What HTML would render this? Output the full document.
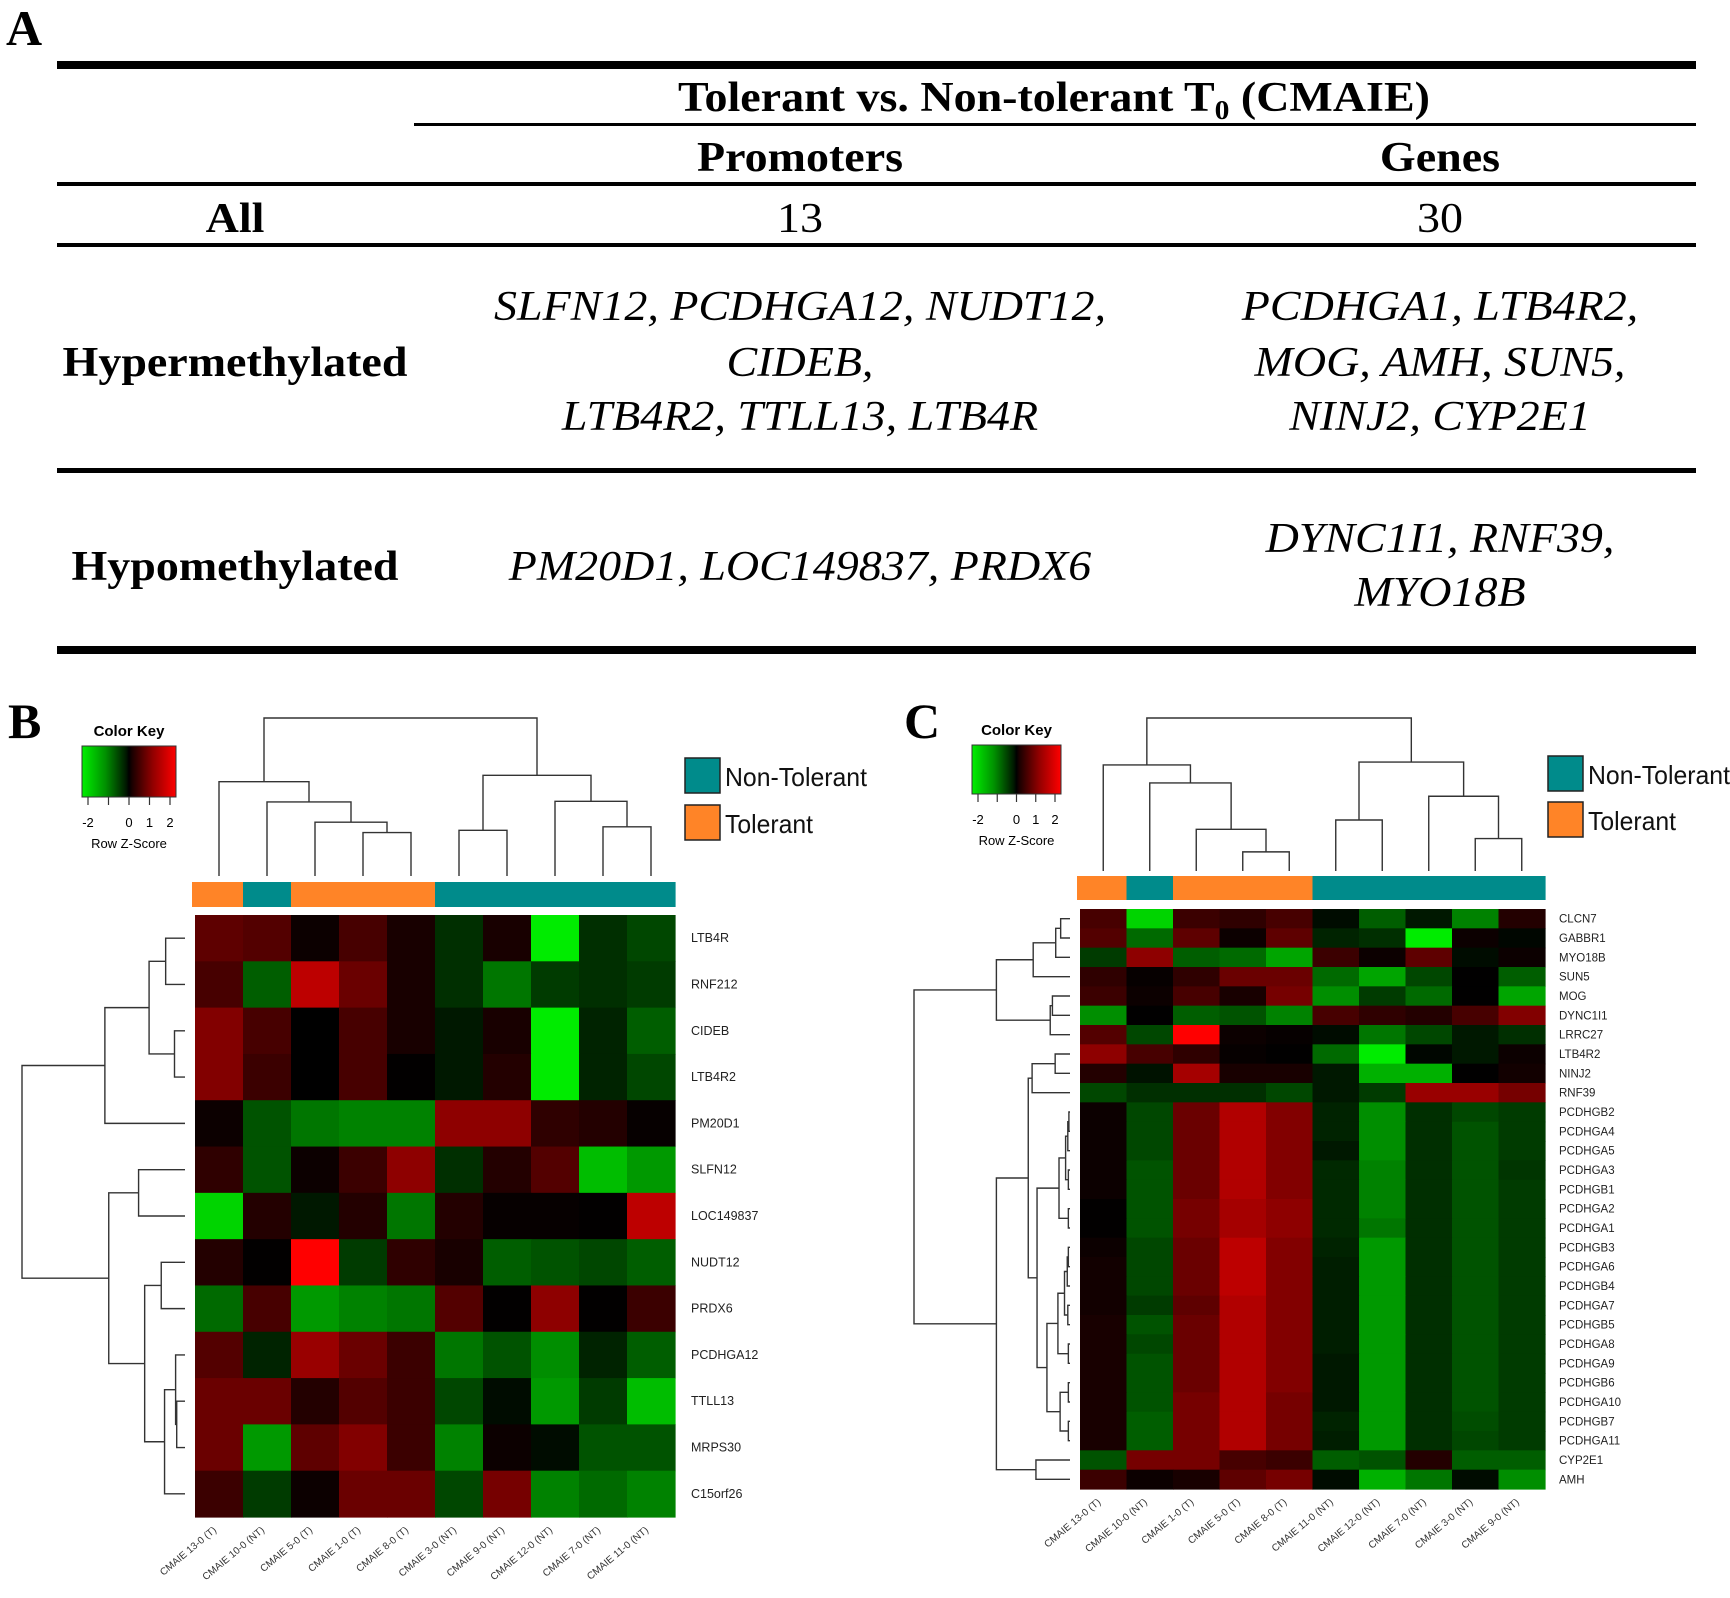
<!DOCTYPE html>
<html><head><meta charset="utf-8"><style>
html,body{margin:0;padding:0;background:#fff;}
svg{display:block;}
.ser{font-family:"Liberation Serif",serif;}
.sans{font-family:"Liberation Sans",sans-serif;}
</style></head><body>
<svg id="fig" width="1730" height="1598" viewBox="0 0 1730 1598" xmlns="http://www.w3.org/2000/svg">
<g id="tbl" class="ser" fill="#000">
<text x="6" y="45" font-size="50" font-weight="bold">A</text>
<rect x="57" y="61" width="1639" height="8"/>
<text class="st" x="1054" y="111" font-size="42" font-weight="bold" text-anchor="middle">Tolerant vs. Non-tolerant T<tspan font-size="27" dy="8">0</tspan><tspan dy="-8"> (CMAIE)</tspan></text>
<rect x="414" y="123" width="1282" height="3"/>
<text class="st" x="800" y="171" font-size="42" font-weight="bold" text-anchor="middle">Promoters</text>
<text class="st" x="1440" y="171" font-size="42" font-weight="bold" text-anchor="middle">Genes</text>
<rect x="57" y="182" width="1639" height="4"/>
<text class="st" x="235" y="232" font-size="42" font-weight="bold" text-anchor="middle">All</text>
<text class="st" x="800" y="232" font-size="42" text-anchor="middle">13</text>
<text class="st" x="1440" y="232" font-size="42" text-anchor="middle">30</text>
<rect x="57" y="243" width="1639" height="4"/>
<text class="st" x="235" y="376" font-size="42" font-weight="bold" text-anchor="middle">Hypermethylated</text>
<g font-size="42" font-style="italic" text-anchor="middle">
<text class="st" x="800" y="320">SLFN12, PCDHGA12, NUDT12,</text>
<text class="st" x="800" y="376">CIDEB,</text>
<text class="st" x="800" y="430">LTB4R2, TTLL13, LTB4R</text>
</g>
<g font-size="42" font-style="italic" text-anchor="middle">
<text class="st" x="1440" y="320">PCDHGA1, LTB4R2,</text>
<text class="st" x="1440" y="376">MOG, AMH, SUN5,</text>
<text class="st" x="1440" y="430">NINJ2, CYP2E1</text>
</g>
<rect x="57" y="468" width="1639" height="5"/>
<text class="st" x="235" y="580" font-size="42" font-weight="bold" text-anchor="middle">Hypomethylated</text>
<text class="st" x="800" y="580" font-size="42" font-style="italic" text-anchor="middle">PM20D1, LOC149837, PRDX6</text>
<g font-size="42" font-style="italic" text-anchor="middle">
<text class="st" x="1440" y="552">DYNC1I1, RNF39,</text>
<text class="st" x="1440" y="606">MYO18B</text>
</g>
<rect x="57" y="646" width="1639" height="8"/>
</g>
<text x="8" y="738" font-size="50" font-weight="bold" class="ser">B</text>
<text x="904" y="738" font-size="50" font-weight="bold" class="ser">C</text>
</svg>
<script>
// ---------- Panel B data ----------
const bCols = ["CMAIE 13-0 (T)","CMAIE 10-0 (NT)","CMAIE 5-0 (T)","CMAIE 1-0 (T)","CMAIE 8-0 (T)","CMAIE 3-0 (NT)","CMAIE 9-0 (NT)","CMAIE 12-0 (NT)","CMAIE 7-0 (NT)","CMAIE 11-0 (NT)"];
const bGroups = ["T","NT","T","T","T","NT","NT","NT","NT","NT"];
const bRows = ["LTB4R","RNF212","CIDEB","LTB4R2","PM20D1","SLFN12","LOC149837","NUDT12","PRDX6","PCDHGA12","TTLL13","MRPS30","C15orf26"];
const bValues = [
[0.8,0.7,0.1,0.6,0.2,-0.4,0.2,-2,-0.4,-0.6],
[0.6,-0.8,1.6,0.9,0.2,-0.4,-1.0,-0.5,-0.4,-0.5],
[1.1,0.6,0,0.6,0.2,-0.2,0.2,-2,-0.3,-0.8],
[1.1,0.5,0,0.6,0.02,-0.2,0.3,-2,-0.3,-0.6],
[0.1,-0.7,-1.0,-1.1,-1.1,1.2,1.2,0.4,0.3,0.05],
[0.4,-0.7,0.1,0.5,1.2,-0.4,0.3,0.7,-1.6,-1.3],
[-1.8,0.3,-0.2,0.3,-1.0,0.3,0.05,0.05,0.02,1.6],
[0.3,0.02,2.2,-0.5,0.4,0.2,-0.8,-0.7,-0.6,-0.8],
[-0.9,0.6,-1.3,-1.1,-1.0,0.7,0.02,1.2,0.02,0.5],
[0.7,-0.3,1.3,0.9,0.5,-1.0,-0.7,-1.2,-0.3,-0.8],
[0.9,0.9,0.3,0.7,0.5,-0.6,-0.1,-1.3,-0.5,-1.6],
[0.9,-1.3,0.8,1.1,0.5,-1.1,0.1,-0.1,-0.7,-0.7],
[0.5,-0.5,0.1,0.9,0.9,-0.6,1.0,-1.1,-0.9,-1.1]];
const bColMerges = [[3,4,75],[2,10,93],[1,11,128],[0,12,163],[5,6,79],[8,9,85],[7,15,129],[14,16,174],[13,17,273]];
const bRowMerges = [[0,1,35],[2,3,19],[13,14,65],[15,4,145],[5,6,84],[7,8,43],[10,11,15],[9,19,17],[20,12,37],[18,21,73],[17,22,138],[16,23,295]];

// ---------- Panel C data ----------
const cCols = ["CMAIE 13-0 (T)","CMAIE 10-0 (NT)","CMAIE 1-0 (T)","CMAIE 5-0 (T)","CMAIE 8-0 (T)","CMAIE 11-0 (NT)","CMAIE 12-0 (NT)","CMAIE 7-0 (NT)","CMAIE 3-0 (NT)","CMAIE 9-0 (NT)"];
const cGroups = ["T","NT","T","T","T","NT","NT","NT","NT","NT"];
const cRows = ["CLCN7","GABBR1","MYO18B","SUN5","MOG","DYNC1I1","LRRC27","LTB4R2","NINJ2","RNF39","PCDHGB2","PCDHGA4","PCDHGA5","PCDHGA3","PCDHGB1","PCDHGA2","PCDHGA1","PCDHGB3","PCDHGA6","PCDHGB4","PCDHGA7","PCDHGB5","PCDHGA8","PCDHGA9","PCDHGB6","PCDHGA10","PCDHGB7","PCDHGA11","CYP2E1","AMH"];
const cValues = [
[0.6,-1.8,0.5,0.4,0.6,-0.1,-0.8,-0.2,-1.1,0.3],
[0.7,-0.9,0.8,0.1,0.8,-0.3,-0.4,-2.0,0.1,-0.05],
[-0.5,1.2,-0.8,-0.9,-1.4,0.5,0.1,0.8,-0.1,0.1],
[0.4,0.05,0.4,0.9,0.9,-0.9,-1.4,-0.6,0.01,-0.8],
[0.5,0.1,0.6,0.2,1.0,-1.2,-0.5,-0.9,0.01,-1.4],
[-1.2,0.01,-0.8,-0.7,-1.1,0.6,0.4,0.3,0.6,1.1],
[0.7,-0.6,2.2,0.1,0.05,-0.1,-1.0,-0.6,-0.2,-0.4],
[1.2,0.6,0.4,0.05,0.01,-0.9,-2.0,-0.05,-0.2,0.1],
[0.3,-0.15,1.4,0.2,0.2,-0.2,-1.5,-1.5,0.01,0.15],
[-0.6,-0.4,-0.4,-0.4,-0.6,-0.2,-0.5,1.3,1.3,1.0],
[0.1,-0.6,0.9,1.5,1.1,-0.3,-1.2,-0.4,-0.6,-0.5],
[0.1,-0.6,0.9,1.5,1.1,-0.3,-1.2,-0.4,-0.7,-0.5],
[0.1,-0.6,0.9,1.5,1.1,-0.2,-1.2,-0.4,-0.7,-0.5],
[0.1,-0.7,0.9,1.5,1.1,-0.35,-1.1,-0.4,-0.7,-0.45],
[0.1,-0.7,0.9,1.5,1.1,-0.35,-1.1,-0.4,-0.7,-0.5],
[0.02,-0.7,1.0,1.4,1.2,-0.35,-1.1,-0.4,-0.7,-0.5],
[0.02,-0.7,1.0,1.4,1.2,-0.35,-1.0,-0.4,-0.7,-0.5],
[0.1,-0.6,0.9,1.6,1.1,-0.3,-1.3,-0.4,-0.7,-0.5],
[0.15,-0.6,0.9,1.6,1.1,-0.25,-1.3,-0.4,-0.7,-0.5],
[0.15,-0.6,0.9,1.6,1.1,-0.25,-1.3,-0.4,-0.7,-0.5],
[0.15,-0.5,0.8,1.5,1.1,-0.25,-1.3,-0.4,-0.7,-0.5],
[0.2,-0.7,0.9,1.5,1.1,-0.25,-1.3,-0.4,-0.7,-0.5],
[0.2,-0.6,0.9,1.5,1.1,-0.25,-1.3,-0.4,-0.7,-0.5],
[0.2,-0.7,0.9,1.5,1.1,-0.2,-1.3,-0.4,-0.7,-0.5],
[0.2,-0.7,0.9,1.5,1.1,-0.2,-1.3,-0.4,-0.7,-0.5],
[0.2,-0.7,1.0,1.5,1.0,-0.2,-1.3,-0.4,-0.7,-0.5],
[0.2,-0.8,1.0,1.5,1.0,-0.3,-1.3,-0.4,-0.65,-0.5],
[0.2,-0.8,1.0,1.5,1.0,-0.25,-1.3,-0.4,-0.6,-0.5],
[-0.7,1.0,1.0,0.6,0.5,-0.8,-0.7,0.3,-0.8,-0.8],
[0.5,0.1,0.2,0.8,1.0,-0.1,-1.5,-1.0,-0.1,-1.2]];
const cColMerges = [[3,4,33],[2,10,72],[1,11,152],[0,12,183],[5,6,88],[8,9,56],[7,15,129],[14,16,188],[13,17,264]];
const cRowMerges = [[0,1,17],[30,2,26],[31,3,67],[4,5,32],[33,6,36],[32,34,134],[7,8,27],[36,9,69],
[10,11,2],[38,12,4],[13,14,3],[39,40,8],[15,16,3],[41,42,20],[17,18,3],[44,19,5],[20,21,4],[45,46,10],[22,23,3],[47,48,22],[24,25,3],[26,27,3],[50,51,18],[49,52,42],[43,53,60],[37,54,76],[28,29,62],[55,56,134],[35,57,284]];
const keyTicks = [-2,-1,0,1,2];
const keyLabels = ["-2","","0","1","2"];

const NS = "http://www.w3.org/2000/svg";
const svg = document.getElementById('fig');
function mk(tag, attrs, parent){const e=document.createElementNS(NS,tag);for(const k in attrs)e.setAttribute(k,attrs[k]);(parent||svg).appendChild(e);return e;}
function zcolor(z){const v=Math.min(255,Math.round(Math.abs(z)*118));return z>=0?`rgb(${v},0,0)`:`rgb(0,${v},0)`;}
const TEAL="#008b8b", ORANGE="#ff8427";

// stretch table text horizontally to match reference widths
document.querySelectorAll('#tbl text.st').forEach(t=>{
  const L=t.getComputedTextLength();
  if(L>0){t.setAttribute('textLength',(L*1.095).toFixed(1));t.setAttribute('lengthAdjust','spacingAndGlyphs');}
});

function drawDendro(g, merges, n, leafPos, base, rootPos, horizontal){
  const pos=[], h=[];
  for(let i=0;i<n;i++){pos.push(leafPos(i));h.push(0);}
  const maxH=Math.max(...merges.map(m=>m[2]));
  const sc=(base-rootPos)/maxH;
  const L=v=>base-v*sc;
  let d="";
  merges.forEach(m=>{
    const [a,b,ht]=m;
    if(!horizontal){
      d+=`M${pos[a]},${L(h[a])}V${L(ht)}H${pos[b]}V${L(h[b])}`;
    } else {
      d+=`M${L(h[a])},${pos[a]}H${L(ht)}V${pos[b]}H${L(h[b])}`;
    }
    pos.push((pos[a]+pos[b])/2);h.push(ht);
  });
  const p=mk('path',{d:d,fill:'none',stroke:'#333','stroke-width':1.4},g);
  
  
}

function drawPanel(P){
  const g=mk('g',{});
  
  
  const nC=P.cols.length,nR=P.rows.length;
  const cw=(P.x1-P.x0)/nC, rh=(P.y1-P.y0)/nR;
  const cx=i=>P.x0+cw*(i+0.5), ry=i=>P.y0+rh*(i+0.5);
  const hm=mk('g',{},g);
  
  
  P.values.forEach((row,r)=>row.forEach((v,c)=>{
    const e=mk('rect',{x:P.x0+c*cw,y:P.y0+r*rh,width:cw+0.6,height:rh+0.6,fill:zcolor(v)},hm);
    
    
  }));
  P.groups.forEach((gr,c)=>{
    const e=mk('rect',{x:P.x0+c*cw-(c==0?3:0),y:P.by0,width:cw+0.6+(c==0?3:0),height:P.by1-P.by0,fill:gr=="T"?ORANGE:TEAL},g);
    
    
  });
  P.rows.forEach((name,r)=>{
    const t=mk('text',{x:P.lx,y:ry(r)+4,'font-size':P.rfs,fill:'#222','class':'sans'},g);
    t.textContent=name;
    
    
  });
  P.cols.forEach((name,c)=>{
    const x=cx(c)-2,y=P.y1+14;
    const t=mk('text',{x:x,y:y,'font-size':10,fill:'#333','class':'sans','text-anchor':'end',transform:`rotate(-40 ${x} ${y})`},g);
    t.textContent=name;
    
    
  });
  drawDendro(g,P.colMerges,nC,cx,P.cLeaf,P.cRoot,false);
  drawDendro(g,P.rowMerges,nR,ry,P.rLeaf,P.rRoot,true);
  const K=P.key;
  const gid=P.name+'-grad';
  const defs=mk('defs',{},g);
  const lg=mk('linearGradient',{id:gid,x1:0,x2:1,y1:0,y2:0},defs);
  [[0,'#00f000'],[0.25,'#009000'],[0.47,'#001800'],[0.5,'#000'],[0.53,'#180000'],[0.75,'#900000'],[1,'#ff0000']].forEach(s=>mk('stop',{offset:s[0],'stop-color':s[1]},lg));
  const kr=mk('rect',{x:K.x,y:K.y,width:K.w,height:K.h,fill:`url(#${gid})`,stroke:'#333','stroke-width':1},g);
  
  
  const kt=mk('text',{x:K.x+K.w/2,y:K.y-10,'font-size':15,'font-weight':'bold','text-anchor':'middle','class':'sans'},g);
  kt.textContent='Color Key';
  
  
  const kx=v=>K.x+6+(v+2)/4*(K.w-12);
  keyTicks.forEach((v,i)=>{
    mk('line',{x1:kx(v),x2:kx(v),y1:K.y+K.h,y2:K.y+K.h+8,stroke:'#333','stroke-width':1.2},g);
    if(keyLabels[i]){const t=mk('text',{x:kx(v),y:K.y+K.h+30,'font-size':13,'text-anchor':'middle','class':'sans'},g);t.textContent=keyLabels[i];
      
      }
  });
  const zs=mk('text',{x:K.x+K.w/2,y:K.y+K.h+51,'font-size':13,'text-anchor':'middle','class':'sans'},g);
  zs.textContent='Row Z-Score';
  
  
  [["Non-Tolerant",TEAL,P.leg.y],["Tolerant",ORANGE,P.leg.y+P.leg.gap]].forEach(l=>{
    const b=mk('rect',{x:P.leg.x,y:l[2],width:35,height:35,fill:l[1],stroke:'#222','stroke-width':1.5},g);
    
    
    const t=mk('text',{x:P.leg.x+40,y:l[2]+28,'font-size':26,'class':'sans',fill:'#111',textLength:l[0]=="Tolerant"?88:142,lengthAdjust:'spacingAndGlyphs'},g);
    t.textContent=l[0];
    
    
  });
}

drawPanel({name:'panel-b-heatmap',cols:bCols,rows:bRows,groups:bGroups,values:bValues,colMerges:bColMerges,rowMerges:bRowMerges,
  x0:195,x1:675,y0:915,y1:1517,by0:882,by1:907,lx:691,rfs:12.5,cLeaf:876,cRoot:718,rLeaf:185,rRoot:22,
  key:{x:82,y:746,w:94,h:51},leg:{x:685,y:758,gap:47}});
drawPanel({name:'panel-c-heatmap',cols:cCols,rows:cRows,groups:cGroups,values:cValues,colMerges:cColMerges,rowMerges:cRowMerges,
  x0:1080,x1:1545,y0:909,y1:1489,by0:876,by1:900,lx:1559,rfs:11.5,cLeaf:871,cRoot:718,rLeaf:1070,rRoot:914,
  key:{x:972,y:745,w:89,h:49},leg:{x:1548,y:756,gap:46}});
</script>
</body></html>
